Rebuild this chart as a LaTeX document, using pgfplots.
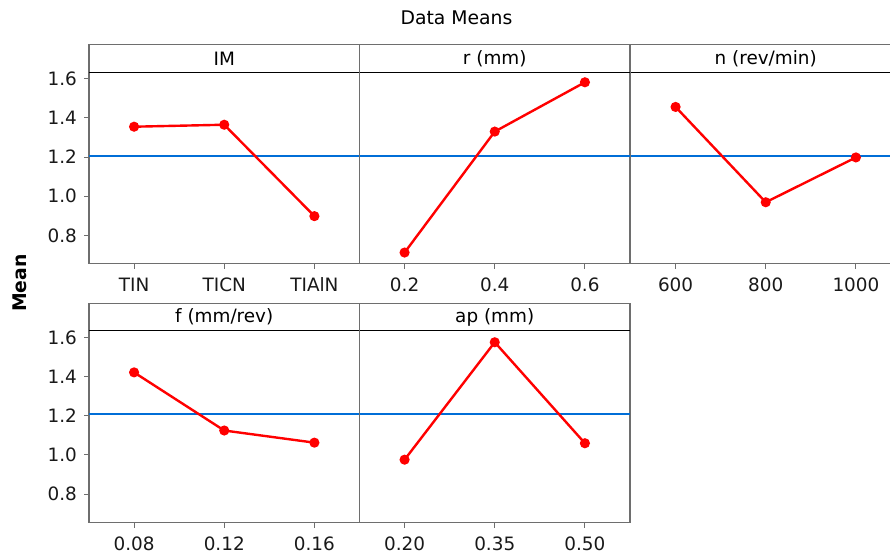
\documentclass[border=0pt]{standalone}
\usepackage{fontspec}
\setmainfont{DejaVu Sans}
\usepackage{pgfplots}
\pgfplotsset{compat=1.18}

\definecolor{meanblue}{RGB}{0,110,215}
\definecolor{framegray}{RGB}{110,110,110}

\pgfplotsset{
  panel/.style={
    scale only axis,
    width=135.25pt, height=109.6pt,
    anchor=north west,
    xmin=0.5, xmax=3.5,
    ymin=0.655, ymax=1.775,
    xtick={1,2,3},
    tick align=outside,
    tick pos=left,
    major tick length=2.5pt,
    tick style={framegray, line width=0.5pt},
    axis line style={framegray, line width=0.6pt},
    ticklabel style={font=\fontsize{9.2}{11}\selectfont, text=black!90},
    /pgf/number format/assume math mode=true,
    /pgf/number format/fixed,
    /pgf/number format/fixed zerofill,
    /pgf/number format/precision=1,
    xticklabel style={yshift=-1pt},
    clip=false,
  },
  leftpanel/.style={ytick={0.8,1.0,1.2,1.4,1.6}},
  innerpanel/.style={ytick=\empty},
  means/.style={red, line width=1.2pt, mark=*, mark size=1.9pt},
}

% header strip and grand mean for one panel
\newcommand{\panelhead}[1]{%
  \draw[black, line width=0.5pt] (rel axis cs:0,0.874) -- (rel axis cs:1,0.874);
  \node[font=\fontsize{9.2}{11}\selectfont] at (rel axis cs:0.5,0.937) {#1};
  \addplot[color=meanblue, line width=1pt, no marks] coordinates {(0.5,1.207) (3.5,1.207)};
}

\begin{document}
\begin{tikzpicture}
\useasboundingbox (0,0) rectangle (445pt,-278pt);

\node[font=\fontsize{9.4}{11}\selectfont] at (228.25pt,-9pt) {Data Means};
\node[font=\bfseries\fontsize{9.4}{11}\selectfont, rotate=90] at (10pt,-141.5pt) {Mean};

% top row
\begin{axis}[panel, leftpanel, at={(44.5pt,-22.25pt)}, xticklabels={TIN,TICN,TIAlN}]
\panelhead{IM}
\addplot[means] coordinates {(1,1.355) (2,1.365) (3,0.898)};
\end{axis}

\begin{axis}[panel, innerpanel, at={(179.75pt,-22.25pt)}, xticklabels={0.2,0.4,0.6}]
\panelhead{r (mm)}
\addplot[means] coordinates {(1,0.712) (2,1.330) (3,1.582)};
\end{axis}

\begin{axis}[panel, innerpanel, at={(315.25pt,-22.25pt)}, xticklabels={600,800,1000}]
\panelhead{n (rev/min)}
\addplot[means] coordinates {(1,1.456) (2,0.969) (3,1.198)};
\end{axis}

% bottom row
\begin{axis}[panel, leftpanel, at={(44.5pt,-151.65pt)}, xticklabels={0.08,0.12,0.16}]
\panelhead{f (mm/rev)}
\addplot[means] coordinates {(1,1.422) (2,1.125) (3,1.063)};
\end{axis}

\begin{axis}[panel, innerpanel, at={(179.75pt,-151.65pt)}, xticklabels={0.20,0.35,0.50}]
\panelhead{ap (mm)}
\addplot[means] coordinates {(1,0.976) (2,1.576) (3,1.060)};
\end{axis}

\end{tikzpicture}
\end{document}
